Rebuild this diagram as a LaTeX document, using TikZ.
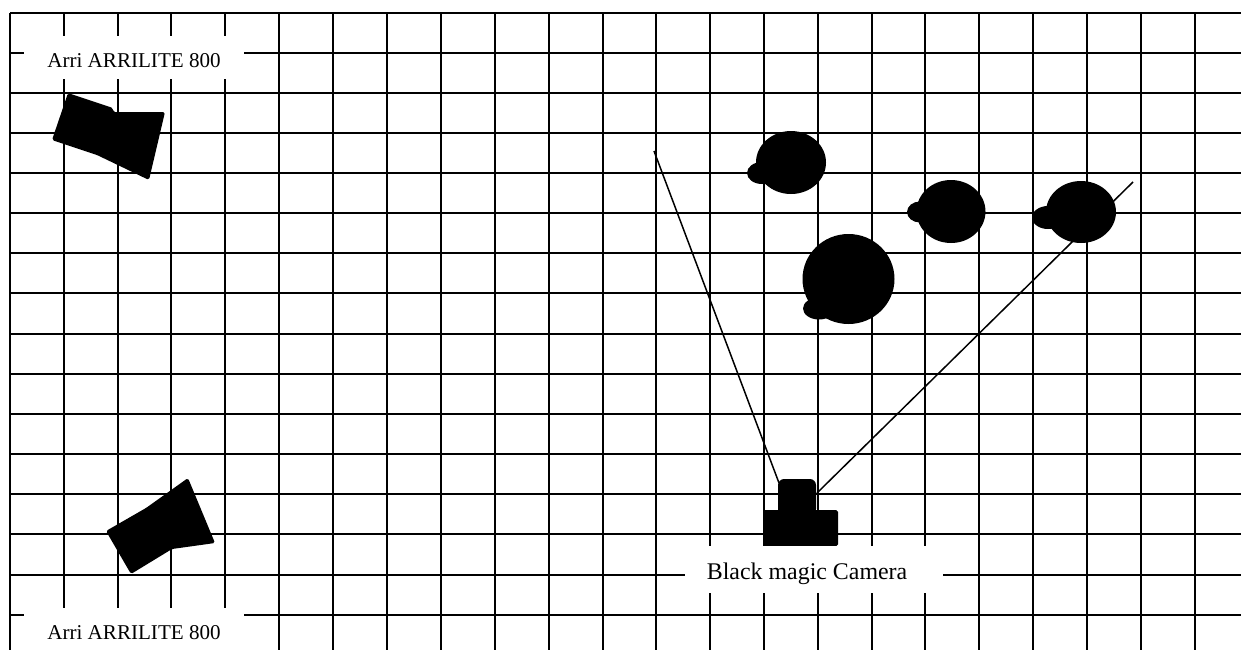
\documentclass[tikz,border=0pt]{standalone}
\usepackage{fontspec}
\setmainfont{Liberation Serif}

\tikzset{
    gridline/.style={line width=1.13pt},
    sightline/.style={line width=0.85pt},
    prop/.style={fill=black, rounded corners=1pt},
    tag/.style={fill=white, inner sep=0pt, font=\fontsize{12}{14}\selectfont, minimum width=124.7pt, text height=18pt, text depth=6.4pt},
}

\begin{document}
\begin{tikzpicture}[x=0.02cm, y=-0.02cm]
    \useasboundingbox (0,0) rectangle (1241,650);
    % グリッド
    \foreach \i in {10,64,118,171,225,279,333,387,441,495,549,603,656,710,764,818,872,925,979,1033,1087,1141,1195} {
        \draw[gridline] (\i,13)--(\i,650);
    }
    \foreach \j in {13,53,93,133,173,213,253,293,334,374,414,454,494,534,575,615} {
        \draw[gridline] (10,\j)--(1241,\j);
    }
    % 視野
    \coordinate (camera_l) at (779,483);
    \coordinate (camera_r) at (817,493);
    \coordinate (view_l) at (654,151);
    \coordinate (view_r) at (1133,182);
    \draw[sightline] (camera_l)--(view_l);
    \draw[sightline] (camera_r)--(view_r);
    % 人物
    \fill (791,162.5) ellipse (35 and 31.5);
    \fill (762,173) ellipse (15 and 11);
    \fill (951,211.5) ellipse (34.5 and 31.5);
    \fill (920,212) ellipse (13 and 10.5);
    \fill (1081,212) ellipse (35 and 31);
    \fill (1048,217.5) ellipse (16 and 11.5);
    \fill (848.5,279) ellipse (46 and 45);
    \fill (819,308.5) ellipse (16 and 11);
    % カメラ
    \fill[rounded corners=3.5pt] (778,515)--(778,479)--(816,479)--(816,515)--cycle;
    \fill[rounded corners=1pt] (763,546)--(763,510)--(838,510)--(838,546)--cycle;
    % ライト
    \fill[prop] (68,93)--(113,108)--(113,112)--(165,112)--(149,180)--(97,155)--(52,140)--cycle;
    \fill[prop] (106,531)--(146,508)--(188,478)--(215,543)--(172,549)--(131,574)--cycle;
    % ラベル
    \node[tag] (light_top) at (134,57.5) {Arri ARRILITE 800};
    \node[tag] (light_bottom) at (134,629.5) {Arri ARRILITE 800};
    \node[tag, font=\fontsize{13.6}{16}\selectfont, minimum width=146.3pt, text height=19.3pt, text depth=7.4pt] (camera_tag) at (814,569.5) {Black magic Camera\hspace*{7.9pt}};
\end{tikzpicture}
\end{document}
